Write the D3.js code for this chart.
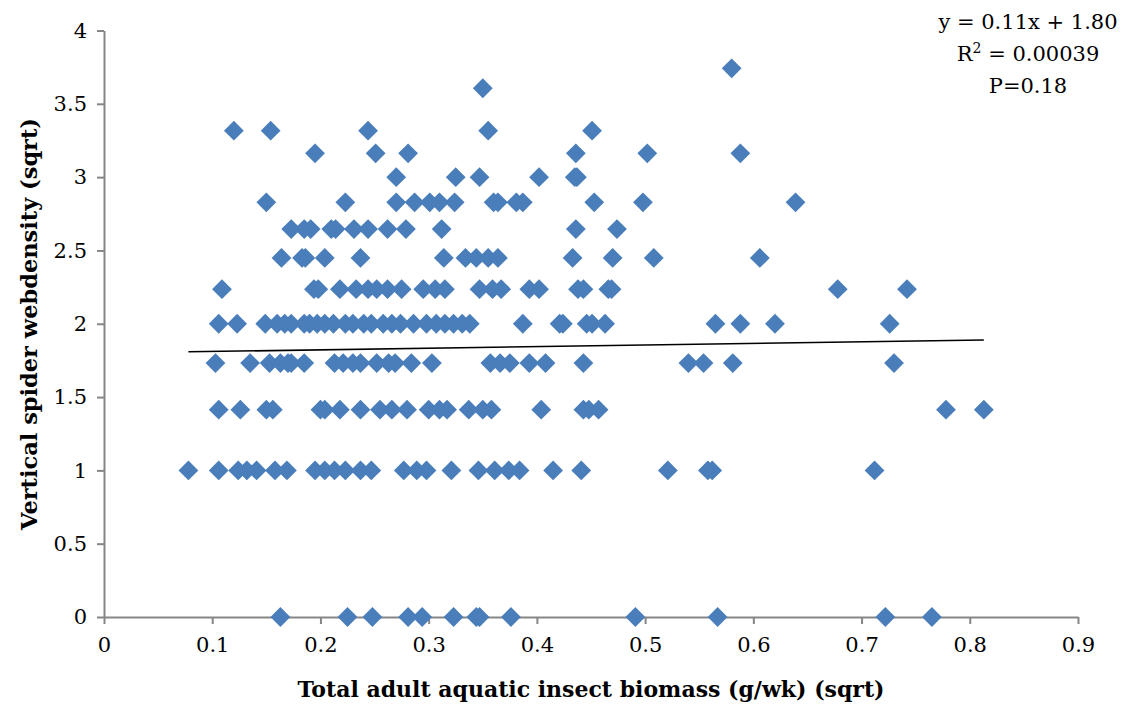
<!DOCTYPE html>
<html>
<head>
<meta charset="utf-8">
<script src="https://cdn.jsdelivr.net/npm/d3@7"></script>
<style>
  body { margin: 0; background: #fff; }
  svg { display: block; }
</style>
</head>
<body>
<div id="container"></div>
<script>
let width = 1121
let height = 707
margin = ({ top: 30.5, right: 43, bottom: 90, left: 104 })

const yLevels = [0, 1, 1.414, 1.732, 2, 2.236, 2.449, 2.646, 2.828, 3, 3.162, 3.317, 3.606, 3.742]
const xByLevel = [
    [0.163, 0.225, 0.248, 0.281, 0.294, 0.323, 0.344, 0.347, 0.376, 0.491, 0.567, 0.722, 0.765],
    [0.078, 0.106, 0.124, 0.132, 0.141, 0.158, 0.169, 0.195, 0.204, 0.213, 0.223, 0.237, 0.247, 0.277, 0.289, 0.298, 0.321, 0.346, 0.361, 0.374, 0.384, 0.415, 0.441, 0.521, 0.558, 0.562, 0.712],
    [0.106, 0.126, 0.150, 0.156, 0.200, 0.204, 0.218, 0.237, 0.255, 0.266, 0.280, 0.300, 0.310, 0.317, 0.337, 0.350, 0.358, 0.404, 0.443, 0.448, 0.457, 0.778, 0.813],
    [0.103, 0.135, 0.153, 0.163, 0.170, 0.173, 0.185, 0.213, 0.221, 0.230, 0.237, 0.252, 0.263, 0.269, 0.284, 0.303, 0.357, 0.366, 0.375, 0.393, 0.408, 0.443, 0.540, 0.554, 0.581, 0.730],
    [0.106, 0.123, 0.149, 0.160, 0.167, 0.173, 0.185, 0.190, 0.197, 0.204, 0.212, 0.223, 0.230, 0.240, 0.247, 0.258, 0.266, 0.274, 0.286, 0.298, 0.307, 0.315, 0.323, 0.331, 0.338, 0.387, 0.421, 0.424, 0.446, 0.451, 0.463, 0.565, 0.588, 0.620, 0.726],
    [0.109, 0.194, 0.198, 0.218, 0.233, 0.244, 0.252, 0.262, 0.275, 0.295, 0.306, 0.315, 0.347, 0.359, 0.367, 0.393, 0.402, 0.438, 0.443, 0.466, 0.469, 0.678, 0.742],
    [0.164, 0.183, 0.186, 0.204, 0.237, 0.314, 0.334, 0.344, 0.355, 0.364, 0.433, 0.470, 0.508, 0.606],
    [0.173, 0.185, 0.191, 0.210, 0.214, 0.231, 0.244, 0.262, 0.279, 0.312, 0.436, 0.474],
    [0.150, 0.223, 0.270, 0.287, 0.301, 0.310, 0.324, 0.360, 0.364, 0.381, 0.387, 0.453, 0.498, 0.639],
    [0.270, 0.325, 0.347, 0.402, 0.435, 0.437],
    [0.195, 0.251, 0.281, 0.436, 0.502, 0.588],
    [0.120, 0.154, 0.244, 0.355, 0.451],
    [0.350],
    [0.580]
]
const xTicks = [0, 0.1, 0.2, 0.3, 0.4, 0.5, 0.6, 0.7, 0.8, 0.9]
const yTicks = [0, 0.5, 1, 1.5, 2, 2.5, 3, 3.5, 4]
const slope = 0.11
const intercept = 1.80
const statLines = ["y = 0.11x + 1.80", "R2 = 0.00039", "P=0.18"]

const data = yLevels.flatMap((yv, i) => xByLevel[i].map(xv => ({ x: xv, y: yv })))

let x = d3.scaleLinear()
    .domain([0, 0.9])
    .range([margin.left, width - margin.right])

let y = d3.scaleLinear()
    .domain([0, 4])
    .range([height - margin.bottom, margin.top])

const tickFont = "'DejaVu Serif', serif"
const axisColor = "#868686"

let xAxis = g => g
    .attr("transform", `translate(0,${height - margin.bottom})`)
    .call(d3.axisBottom(x).tickValues(xTicks).tickFormat(d3.format("")).tickSize(7).tickSizeOuter(0))
    .call(g => g.selectAll("path, line").attr("stroke", axisColor).attr("stroke-width", 2))
    .call(g => g.selectAll("text")
        .attr("fill", "#000")
        .attr("font-family", tickFont)
        .attr("font-size", 21)
        .attr("dy", "1.2em"))

let yAxis = g => g
    .attr("transform", `translate(${margin.left},0)`)
    .call(d3.axisLeft(y).tickValues(yTicks).tickFormat(d3.format("")).tickSize(7).tickSizeOuter(0))
    .call(g => g.selectAll("path, line").attr("stroke", axisColor).attr("stroke-width", 2))
    .call(g => g.selectAll("text")
        .attr("fill", "#000")
        .attr("font-family", tickFont)
        .attr("font-size", 21)
        .attr("x", -17))

let svg = d3.select("#container")
    .append("svg")
    .attr("width", width)
    .attr("height", height)
    .attr("viewBox", [0, 0, width, height])

svg.append("g").call(xAxis)
svg.append("g").call(yAxis)

// markers
const diamond = d3.symbol(d3.symbolSquare, 196)
svg.append("g")
    .attr("fill", "#4a7ebb")
    .selectAll("path")
    .data(data)
    .join("path")
    .attr("transform", d => `translate(${x(d.x)},${y(d.y)}) rotate(45)`)
    .attr("d", diamond)

// linear trend line over the data range
const xExt = d3.extent(data, d => d.x)
svg.append("path")
    .datum(xExt.map(v => ({ x: v, y: slope * v + intercept })))
    .attr("fill", "none")
    .attr("stroke", "#000")
    .attr("stroke-width", 1.6)
    .attr("d", d3.line().x(d => x(d.x)).y(d => y(d.y)))

// axis titles
svg.append("text")
    .attr("x", 591)
    .attr("y", 697)
    .attr("text-anchor", "middle")
    .attr("font-family", "'DejaVu Serif', serif")
    .attr("font-weight", "bold")
    .attr("font-size", 22)
    .attr("textLength", 587)
    .attr("lengthAdjust", "spacingAndGlyphs")
    .text("Total adult aquatic insect biomass (g/wk) (sqrt)")

svg.append("text")
    .attr("transform", `translate(37,324) rotate(-90)`)
    .attr("text-anchor", "middle")
    .attr("font-family", "'DejaVu Serif', serif")
    .attr("font-weight", "bold")
    .attr("font-size", 23)
    .attr("textLength", 412)
    .attr("lengthAdjust", "spacingAndGlyphs")
    .text("Vertical spider webdensity (sqrt)")

// regression annotation
const note = svg.append("g")
    .attr("font-family", tickFont)
    .attr("font-size", 21)
    .attr("text-anchor", "middle")
note.selectAll("text")
    .data(statLines)
    .join("text")
    .attr("x", 1028)
    .attr("y", (d, i) => 29 + i * 32)
    .each(function (d) {
        const t = d3.select(this)
        if (d.startsWith("R2")) {
            t.append("tspan").text("R")
            t.append("tspan").attr("font-size", 14).attr("dy", -8).text("2")
            t.append("tspan").attr("dy", 8).text(" = 0.00039")
        } else {
            t.text(d)
        }
    })
</script>
</body>
</html>
